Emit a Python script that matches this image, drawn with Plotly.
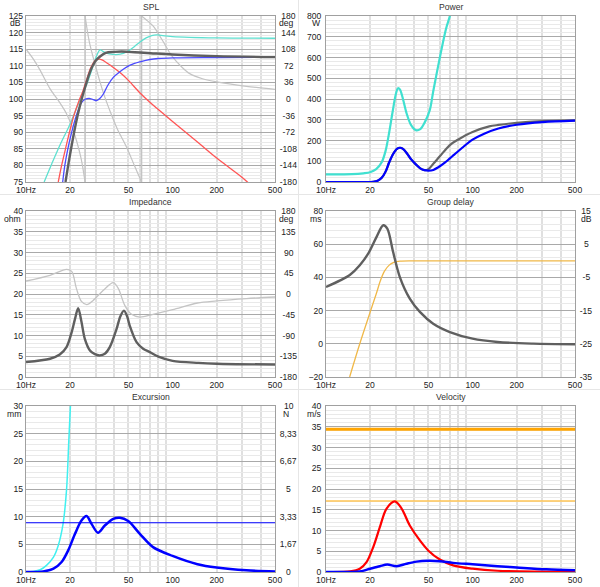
import math
import plotly.graph_objects as go

# ---------------- data ----------------
freq_range = [10, 500]
x_tick_vals = [10, 20, 50, 100, 200, 500]
x_tick_text = ["10Hz", "20", "50", "100", "200", "500"]
x_minor_vals = [20, 30, 40, 50, 60, 70, 80, 90, 200, 300, 400]

# SPL panel (dB)
spl_total_f = [18.6, 19.4, 20.3, 21.3, 22.5, 24, 25.5, 27, 28.5, 30, 32, 35, 40, 45, 50, 60, 71, 100, 200, 500]
spl_total = [75, 80, 85, 90, 95, 100, 104, 107.5, 110, 111.6, 112.8, 113.9, 114.2, 114.3, 114.2, 114.0, 113.8, 113.4, 112.9, 112.6]
spl_red_f = [16.6, 17.5, 18.6, 19.8, 21.2, 23, 24.5, 26, 27.7, 30, 31.5, 33, 38, 45, 50, 60, 70, 80, 100, 150, 200, 300, 320, 350]
spl_red = [75, 80, 85, 90, 95, 99.5, 102.5, 106, 109.5, 111.8, 112, 111.8, 110, 107.5, 105.6, 101.8, 99, 96.8, 93.2, 86.8, 82.2, 76.3, 75.2, 73.6]
spl_blue_f = [17.8, 18.4, 19.3, 20.5, 21.7, 22.7, 24, 25.5, 27, 28.5, 30.3, 32, 33.7, 36, 39.4, 43.7, 48.5, 55, 60, 70, 80, 100, 200, 500]
spl_blue = [75, 80, 85, 90, 94, 96.6, 99, 100, 100.2, 99.9, 99.5, 100.2, 101.5, 104, 106.5, 108.2, 109.6, 110.7, 111.2, 111.9, 112.2, 112.4, 112.5, 112.6]
spl_cyan_f = [13.3, 15, 17, 20, 23, 26, 28, 30, 32, 34, 37, 44, 50, 55, 60, 66, 72, 78, 90, 100, 200, 500]
spl_cyan = [75, 80.5, 86, 92.5, 99, 104.5, 108.5, 112.5, 114.8, 114.2, 113.6, 113.5, 114.5, 115.8, 117.2, 118.4, 119.1, 119.3, 119.0, 118.8, 118.4, 118.3]
# SPL phase (deg), wrapped segments
spl_phase_seg_f = [
    [10, 11.2, 12.5, 14.6, 17, 18.9, 20.5, 22.1, 23.8, 25.3],
    [25.3, 27, 29.6, 33.6, 37.3, 42, 48.5, 55, 61.4],
    [61.4, 66, 73.8, 85, 98.6, 115, 131, 160, 200, 319, 500],
]
spl_phase_seg = [
    [108, 87, 62, 22, -8, -32, -58, -90, -130, -180],
    [180, 125, 75, 15, -25, -65, -104, -145, -180],
    [180, 172, 158, 128, 94, 70, 55, 44, 37, 27.5, 21],
]

# Power panel (W)
pow_cyan_f = [10, 15, 18, 20, 22, 24, 25.5, 27, 28.5, 30, 31, 32, 33.5, 35.5, 38, 41, 44, 47, 51, 54, 61, 66, 70, 72]
pow_cyan = [37, 38, 42, 47, 62, 95, 150, 240, 340, 425, 452, 445, 400, 330, 275, 250, 255, 285, 345, 440, 630, 740, 800, 850]
pow_grey_f = [10, 18, 21, 22.5, 24, 25.5, 27, 28.7, 30.5, 32, 33.5, 35.5, 38, 41, 44, 47, 50, 54, 60, 70, 80, 100, 130, 150, 200, 300, 500]
pow_grey = [0, 0, 1, 6, 20, 50, 95, 135, 160, 165, 160, 140, 110, 85, 66, 57, 62, 88, 125, 178, 205, 241, 268, 275, 285, 293, 297]
pow_blue_f = [10, 18, 21, 22.5, 24, 25.5, 27, 28.7, 30.5, 32, 33.5, 35.5, 38, 41, 44, 47, 50, 54, 58, 65, 75, 85, 100, 120, 150, 200, 300, 500]
pow_blue = [0, 0, 1, 6, 20, 50, 95, 135, 160, 165, 160, 140, 110, 85, 66, 57, 55, 58, 70, 95, 132, 165, 204, 233, 258, 276, 289, 296]

# Impedance panel (ohm, deg)
imp_f = [10, 14.6, 17, 18.9, 20.5, 21.6, 22.7, 23.9, 25.2, 27.3, 29.5, 31.9, 34.5, 37.3, 41.5, 44, 46.6, 49, 51, 56.8, 63, 70, 80, 100, 150, 200, 500]
imp_ohm = [3.6, 4.4, 5.4, 7.2, 10.8, 14, 16.6, 13.3, 9.2, 6.4, 5.5, 5.2, 5.6, 7.2, 11.6, 14.6, 16.0, 14.6, 12.4, 8.4, 6.8, 6.0, 4.9, 3.9, 3.4, 3.2, 3.0]
imp_ph_f = [10, 14.6, 18.9, 20.5, 22.1, 23.9, 26, 28.7, 33.7, 39.4, 42.7, 47.2, 52.5, 59.8, 73.6, 100, 148, 200, 319, 500]
imp_ph = [28.2, 40.5, 53.5, 49, 11.6, -16, -23, -14, 8, 24.6, 11.6, -24.6, -44, -50, -44, -34, -19.5, -15, -10, -6.5]

# Group delay panel (ms, dB)
gd_f = [10, 12.5, 14.6, 17, 19.4, 22.1, 24.6, 26.2, 28.7, 31.9, 37.3, 43.7, 53.9, 70, 100, 148, 259, 500]
gd_ms = [34.2, 38.2, 41.6, 47.3, 54.3, 64.3, 71.4, 69.4, 55.3, 40.2, 27.2, 19.2, 12.1, 7.1, 3.1, 1.1, 0.1, -0.3]
tf_f = [14.5, 17, 20, 22, 23.5, 25, 27, 29, 32, 40, 500]
tf_db = [-35, -25, -15.5, -10, -6, -3.2, -1.3, -0.5, -0.1, 0, 0]

# Excursion panel (mm)
exc_cyan_f = [10, 11.2, 12.5, 13.8, 15.4, 16.6, 17.9, 18.9, 19.6, 20.1, 20.5]
exc_cyan = [0, 0.1, 0.4, 1.2, 2.7, 4.8, 8.7, 14.8, 23.8, 30, 35]
exc_blue_f = [10, 13.1, 15.4, 17.5, 19.4, 21.6, 23.9, 25.9, 28, 31, 34.5, 39.4, 43.7, 49.8, 59.8, 73.6, 100, 148, 200, 319, 500]
exc_blue = [0, 0.1, 0.6, 1.8, 3.9, 6.9, 9.3, 10.1, 8.7, 7.1, 8.4, 9.6, 9.8, 9.2, 6.9, 4.5, 2.9, 1.4, 0.8, 0.3, 0.1]
exc_xmax = 8.9
exc_force_ticks = [0, 1.67, 3.33, 5, 6.67, 8.33, 10]
exc_force_text = ["0", "1,67", "3,33", "5", "6,67", "8,33", "10"]

# Velocity panel (m/s)
vel_red_f = [10, 14.6, 17, 18.9, 21, 23.3, 25.9, 29.5, 32.8, 37.3, 43.7, 49.8, 59.8, 73.6, 100, 148, 500]
vel_red = [0, 0.15, 0.8, 2.4, 6, 10.8, 15.3, 17.0, 15.3, 11.2, 7.6, 5.2, 3.0, 1.6, 0.8, 0.3, 0.05]
vel_blue_f = [10, 17, 20, 23.3, 26.2, 30.3, 35.4, 41.5, 49.8, 59.8, 73.6, 100, 148, 200, 319, 500]
vel_blue = [0, 0.15, 0.8, 1.4, 1.8, 1.4, 2.0, 2.5, 2.7, 2.6, 2.2, 1.85, 1.4, 1.1, 0.65, 0.4]
vel_limit_hi = 34.4
vel_limit_lo = 17.1

# ---------------- layout geometry ----------------
W, H = 600, 587
cols = [(26, 275), (326, 575)]
rows = [(16, 182), (211, 377), (406, 572)]
FONT = "Liberation Sans, Arial, sans-serif"
FS = 8.6
TICKFONT = dict(family=FONT, size=FS, color="#222222")
MAJ = "#a9a9a9"
MIN = "#e9e9e9"
VMIN = "#e0e0e0"


def xd(c):
    return [cols[c][0] / W, cols[c][1] / W]


def yd(r):
    return [1 - rows[r][1] / H, 1 - rows[r][0] / H]


def frange(a, b, s):
    out = []
    v = a
    while v <= b + 1e-9:
        out.append(round(v, 6))
        v += s
    return out


EM = {"-": 0.333, ",": 0.278}


def em_width(s):
    return sum(EM.get(ch, 0.556) for ch in s)


def center_pad(labels):
    """pad right-axis labels so they appear centred like the reference"""
    mw = max(em_width(s) for s in labels)
    out = []
    for s in labels:
        pad = (mw - em_width(s)) / 2
        k = int(pad // 0.556)
        rem = pad - k * 0.556
        j = int(round(rem / 0.1667))
        out.append("\u2007" * k + "\u2006" * j + s)
    return out


fig = go.Figure()
layout = dict(width=W, height=H, margin=dict(l=0, r=0, t=0, b=0, autoexpand=False),
              paper_bgcolor="white", plot_bgcolor="white", showlegend=False,
              font=dict(family=FONT, size=FS, color="#222222"))

# panels: (title, row, col, left spec, right spec, unit_left, unit_right)
panels = [
    ("SPL", 0, 0, (75, 125, 5, 1), (-180, 180, 36), "dB", "deg"),
    ("Power", 0, 1, (0, 800, 100, 20), None, "W", None),
    ("Impedance", 1, 0, (0, 40, 5, 1), (-180, 180, 45), "ohm", "deg"),
    ("Group delay", 1, 1, (-20, 80, 20, 4), (-35, 15, 10), "ms", "dB"),
    ("Excursion", 2, 0, (0, 30, 5, 1), (0, 10, None), "mm", "N"),
    ("Velocity", 2, 1, (0, 40, 5, 1), None, "m/s", None),
]

annotations = []
shapes = []
axis_ids = {}
next_sec = 7
for i, (title, r, c, ls, rs, ul, ur) in enumerate(panels):
    n = i + 1
    left_id = n
    right_id = None
    if rs is not None:
        right_id = next_sec
        next_sec += 1
    base_id = right_id if right_id else left_id
    axis_ids[title] = (n, left_id, right_id)
    ybase = "y" if base_id == 1 else f"y{base_id}"
    layout[f"xaxis{n}"] = dict(
        type="log", range=[math.log10(freq_range[0]), math.log10(freq_range[1])],
        domain=xd(c), anchor=ybase, tickvals=x_tick_vals, ticktext=x_tick_text,
        ticks="", showgrid=False, zeroline=False, tickfont=TICKFONT, automargin=False,
        minor=dict(tickvals=x_minor_vals, showgrid=True, gridcolor=VMIN, gridwidth=1.6, ticks=""),
        showline=True, mirror=True, linecolor="#a0a0a0", linewidth=1, ticklabelstandoff=0,
    )
    lo, hi, step, mstep = ls
    left = dict(range=[lo, hi], tickvals=frange(lo, hi, step), ticks="", side="left",
                showgrid=True, gridcolor=MAJ, gridwidth=1, zeroline=False, tickfont=TICKFONT,
                minor=dict(dtick=mstep, tick0=lo, showgrid=True, gridcolor=MIN, gridwidth=1, ticks=""),
                anchor=f"x{n}" if n > 1 else "x", ticklabelstandoff=2, automargin=False)
    if right_id:
        rlo, rhi, rstep = rs
        if rstep is None:
            rvals = exc_force_ticks
            rtext = exc_force_text
        else:
            rvals = frange(rlo, rhi, rstep)
            rtext = [str(int(v)) for v in rvals]
        layout[f"yaxis{right_id}"] = dict(
            range=[rlo, rhi], domain=yd(r), side="right", tickvals=rvals, ticktext=center_pad(rtext),
            ticks="", showgrid=False, zeroline=False, tickfont=TICKFONT, automargin=False,
            anchor=f"x{n}" if n > 1 else "x", showline=True, mirror=True,
            linecolor="#a0a0a0", ticklabelstandoff=2)
        left["overlaying"] = f"y{right_id}"
    else:
        left["domain"] = yd(r)
        left["showline"] = True
        left["mirror"] = True
        left["linecolor"] = "#a0a0a0"
    layout["yaxis" if left_id == 1 else f"yaxis{left_id}"] = left

    # title and unit labels
    x0, x1 = cols[c]
    y0, y1 = rows[r]
    annotations.append(dict(text=title, x=(x0 + x1) / 2 / W, y=1 - (y0 - 9) / H, xref="paper", yref="paper",
                            showarrow=False, font=dict(family=FONT, size=FS, color="#333333"),
                            xanchor="center", yanchor="middle"))
    annotations.append(dict(text=ul, x=(x0 - 3) / W, y=1 - (y0 + 7.5) / H, xref="paper", yref="paper",
                            showarrow=False, font=TICKFONT, xanchor="right", yanchor="middle"))
    if ur:
        annotations.append(dict(text=ur, x=(x1 + 11) / W, y=1 - (y0 + 7.5) / H, xref="paper", yref="paper",
                                showarrow=False, font=TICKFONT, xanchor="center", yanchor="middle"))
    # dark 100 Hz grid line
    shapes.append(dict(type="line", xref=f"x{n}" if n > 1 else "x", yref=(f"{ybase} domain"),
                       x0=2, x1=2, y0=0, y1=1, line=dict(color="#8c8c8c", width=1), layer="below"))

# panel separators
shapes.append(dict(type="line", xref="paper", yref="paper", x0=298.5 / W, x1=298.5 / W, y0=0, y1=1,
                   line=dict(color="#e6e6e6", width=1)))
for ys in [194.5, 389.5]:
    shapes.append(dict(type="line", xref="paper", yref="paper", x0=0, x1=1, y0=1 - ys / H, y1=1 - ys / H,
                       line=dict(color="#e6e6e6", width=1)))

layout["annotations"] = annotations
layout["shapes"] = shapes
fig.update_layout(**layout)


def ax(n, yid):
    xa = "x" if n == 1 else f"x{n}"
    ya = "y" if yid == 1 else f"y{yid}"
    return xa, ya


def line(n, yid, xs, ys, color, width, shape="spline"):
    xa, ya = ax(n, yid)
    fig.add_trace(go.Scatter(x=xs, y=ys, mode="lines", xaxis=xa, yaxis=ya,
                             line=dict(color=color, width=width, shape=shape, smoothing=0.9),
                             hoverinfo="skip"))


# SPL
n, l_id, r_id = axis_ids["SPL"]
for k, (fs, ph) in enumerate(zip(spl_phase_seg_f, spl_phase_seg)):
    line(n, r_id, fs, ph, "#c4c4c4", 1.2)
    if k < len(spl_phase_seg_f) - 1:
        line(n, r_id, [fs[-1], fs[-1]], [-180, 180], "#c4c4c4", 1.6, "linear")
line(n, l_id, spl_cyan_f, spl_cyan, "#5ee0d0", 1.3)
line(n, l_id, spl_red_f, spl_red, "#ff5555", 1.3)
line(n, l_id, spl_blue_f, spl_blue, "#4a4aff", 1.3)
line(n, l_id, spl_total_f, spl_total, "#5f5f5f", 2.4)

# Power
n, l_id, r_id = axis_ids["Power"]
line(n, l_id, pow_cyan_f, pow_cyan, "#40e0d0", 2.2)
line(n, l_id, pow_grey_f, pow_grey, "#666666", 2.2)
line(n, l_id, pow_blue_f, pow_blue, "#0000ff", 2.2)

# Impedance
n, l_id, r_id = axis_ids["Impedance"]
line(n, r_id, imp_ph_f, imp_ph, "#c4c4c4", 1.3)
line(n, l_id, imp_f, imp_ohm, "#5f5f5f", 2.4)

# Group delay
n, l_id, r_id = axis_ids["Group delay"]
line(n, r_id, tf_f, tf_db, "#f0b848", 1.3)
line(n, l_id, gd_f, gd_ms, "#5f5f5f", 2.4)

# Excursion
n, l_id, r_id = axis_ids["Excursion"]
line(n, r_id, [], [], "#000000", 1)
line(n, l_id, exc_cyan_f, exc_cyan, "#40f0f0", 1.5)
line(n, l_id, freq_range, [exc_xmax, exc_xmax], "#0000ff", 1.2, "linear")
line(n, l_id, exc_blue_f, exc_blue, "#0000ff", 2.5)

# Velocity
n, l_id, r_id = axis_ids["Velocity"]
line(n, l_id, freq_range, [vel_limit_hi, vel_limit_hi], "#ffa500", 3, "linear")
line(n, l_id, freq_range, [vel_limit_lo, vel_limit_lo], "#ffc455", 1.5, "linear")
line(n, l_id, vel_red_f, vel_red, "#ff0000", 2.2)
line(n, l_id, vel_blue_f, vel_blue, "#0000ff", 2.5)

fig.write_html("out.html", config={"displayModeBar": False},
               post_script="document.body.style.margin='0px';")
